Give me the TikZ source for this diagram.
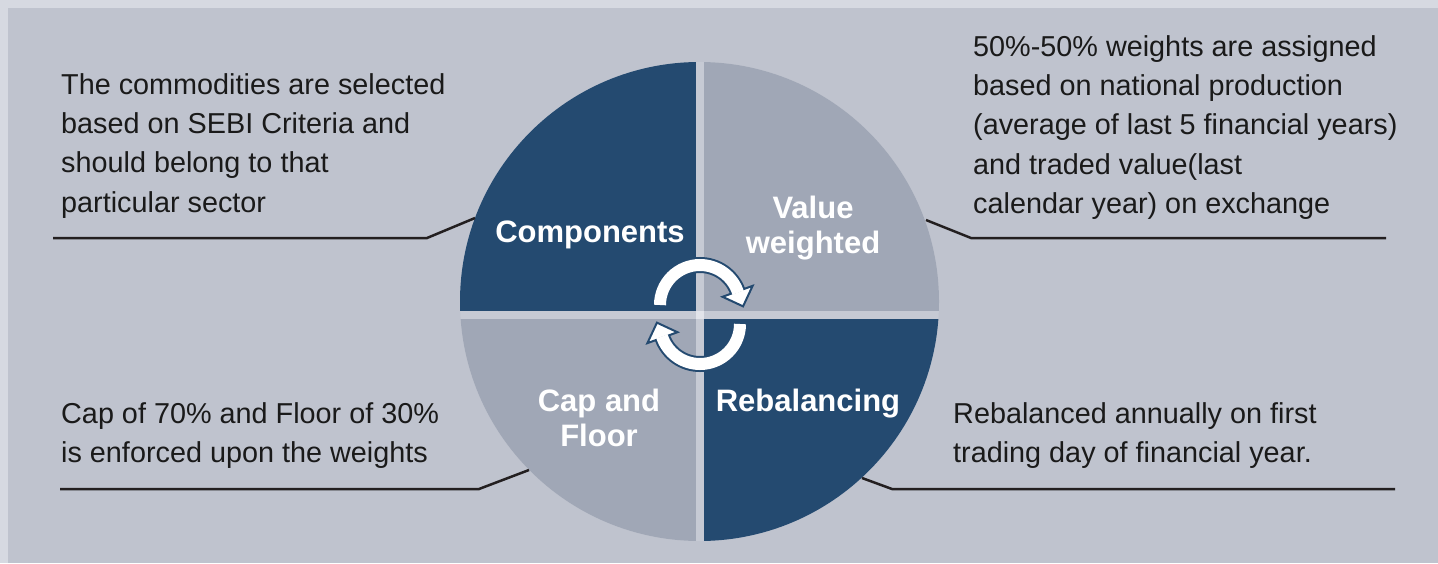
\documentclass[tikz,border=0pt]{standalone}
\usepackage{fontspec}
\setmainfont{Liberation Sans}
\usetikzlibrary{calc}
\definecolor{outerbg}{HTML}{D6D9E1}
\definecolor{panel}{HTML}{BFC3CE}
\definecolor{navy}{HTML}{244A70}
\definecolor{slate}{HTML}{A0A7B6}
\definecolor{gapc}{HTML}{C6CAD4}
\definecolor{ink}{HTML}{1A1A1A}
\definecolor{leader}{HTML}{231F20}
\begin{document}
\begin{tikzpicture}[x=1pt,y=-1pt,
 body/.style={font=\fontsize{28.8}{39.4}\selectfont, text=ink, align=left, anchor=base west, inner sep=0pt},
 seglabel/.style={font=\fontsize{31}{35.5}\selectfont\bfseries, text=white, align=center, anchor=base, inner sep=0pt},
 leaderline/.style={draw=leader, line width=2.5pt},
 arrowunder/.style={draw=navy, line width=16pt},
 arrowbody/.style={draw=white, line width=12pt},
 arrowhead/.style={fill=white, draw=navy, line width=2pt, line join=miter},
]
\fill[outerbg] (0,0) rectangle (1438,563);
\fill[panel] (8,8) rectangle (1438,563);
\useasboundingbox (0,0) rectangle (1438,563);
% pie
\coordinate (cc) at (699.5,301.5);
\begin{scope}
\clip (cc) circle (239.5);
\fill[gapc] (455,55) rectangle (945,545);
\fill[navy] (455,55) rectangle (696,311);
\fill[slate] (704,55) rectangle (945,311);
\fill[slate] (455,319) rectangle (696,545);
\fill[navy] (704,319) rectangle (945,545);
\fill[gapc!50!white] (696,311) rectangle (704,319);
\end{scope}
% cycle arrows
\coordinate (ac1) at (700,305);
\coordinate (ac2) at (700,324);
\draw[arrowunder] ($(ac1)+(-180:40)$) arc[start angle=-180,end angle=-20,radius=40];
\filldraw[arrowhead] ($(ac1)+(-20:56)$) -- ($(ac1)+(-20:40)+(70:16)$) -- ($(ac1)+(-20:24)$) -- cycle;
\draw[arrowbody] ($(ac1)+(-180:40)$) arc[start angle=-180,end angle=-18,radius=40];
\draw[arrowunder] ($(ac2)+(0:40)$) arc[start angle=0,end angle=160,radius=40];
\filldraw[arrowhead] ($(ac2)+(160:56)$) -- ($(ac2)+(160:40)+(250:16)$) -- ($(ac2)+(160:24)$) -- cycle;
\draw[arrowbody] ($(ac2)+(0:40)$) arc[start angle=0,end angle=162,radius=40];
% segment labels (multi-line: base = last line)
\node[seglabel] (comp) at (590,242) {Components};
\node[seglabel] (valw) at (813,253.5) {Value\\weighted};
\node[seglabel] (capf) at (599,446.5) {Cap and\\Floor};
\node[seglabel] (rebal) at (808,411) {Rebalancing};
% texts (base = last line)
\node[body] (tltext) at (61,212.2) {The commodities are selected\\based on SEBI Criteria and\\should belong to that\\particular sector};
\node[body] (trtext) at (973,213.6) {50\%-50\% weights are assigned\\based on national production\\(average of last 5 financial years)\\and traded value(last\\calendar year) on exchange};
\node[body] (bltext) at (61,462.4) {Cap of 70\% and Floor of 30\%\\is enforced upon the weights};
\node[body] (brtext) at (953,462.4) {Rebalanced annually on first\\trading day of financial year.};
% leaders
\coordinate (tl0) at (475,218); \coordinate (tl1) at (427,238); \coordinate (tl2) at (53,238);
\coordinate (tr0) at (926,220); \coordinate (tr1) at (971,238); \coordinate (tr2) at (1386,238);
\coordinate (bl0) at (529,470); \coordinate (bl1) at (479,489); \coordinate (bl2) at (60,489);
\coordinate (br0) at (862,478); \coordinate (br1) at (892,489); \coordinate (br2) at (1395,489);
\draw[leaderline] (tl0) -- (tl1) -- (tl2);
\draw[leaderline] (tr0) -- (tr1) -- (tr2);
\draw[leaderline] (bl0) -- (bl1) -- (bl2);
\draw[leaderline] (br0) -- (br1) -- (br2);
\end{tikzpicture}
\end{document}
